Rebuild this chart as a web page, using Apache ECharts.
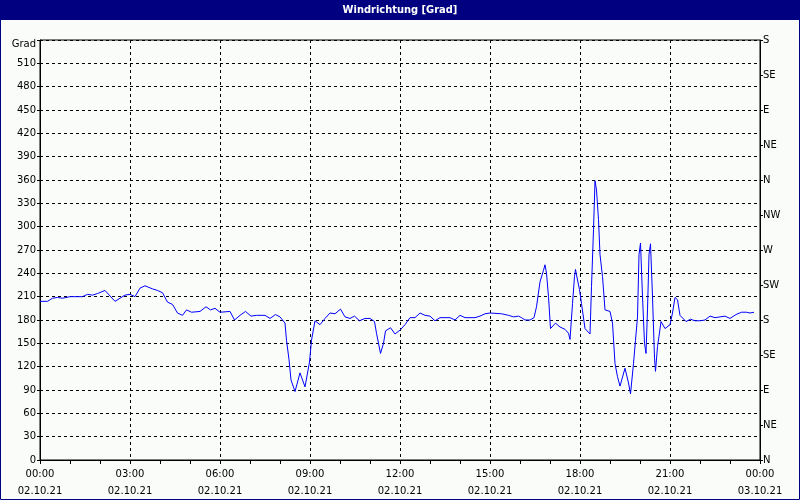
<!DOCTYPE html>
<html>
<head>
<meta charset="utf-8">
<script src="https://cdn.jsdelivr.net/npm/echarts@6/dist/echarts.min.js"></script>
<style>
    html, body { margin: 0; padding: 0; background: #fafcfa; }
    #chart { width: 800px; height: 500px; }
</style>
</head>
<body>
<div id="chart"></div>
<script>
    // Zeit in Minuten ab 02.10.21 00:00, Werte in Grad
    const minutes = [0, 15, 25, 35, 45, 60, 85, 95, 105, 115, 130, 150, 170, 180, 190, 200, 210, 225, 235, 245,
        255, 265, 275, 285, 293, 303, 320, 332, 341, 350, 360, 380, 389, 400, 411, 422, 433, 450, 460, 471,
        480, 490, 493, 498, 502, 510, 520, 530, 539, 543, 550, 560, 570, 580, 590, 601, 610, 620, 629, 639,
        650, 660, 669, 673, 681, 687, 691, 701, 710, 720, 730, 740, 750, 760, 770, 780, 790, 800, 820, 830,
        840, 850, 870, 880, 890, 900, 923, 937, 947, 957, 963, 970, 980, 988, 993, 1000, 1007, 1010, 1013, 1017,
        1021, 1031, 1040, 1050, 1057, 1060, 1065, 1069, 1071, 1073, 1079, 1083, 1090, 1100, 1103, 1107, 1110, 1113, 1117, 1120,
        1125, 1130, 1140, 1145, 1150, 1155, 1160, 1170, 1177, 1181, 1187, 1191, 1195, 1198, 1201, 1205, 1209, 1212, 1215, 1218,
        1221, 1225, 1229, 1231, 1235, 1238, 1242, 1250, 1260, 1265, 1270, 1275, 1280, 1292, 1301, 1310, 1320, 1330, 1340, 1350,
        1370, 1380, 1392, 1403, 1413, 1420, 1428];
    const grad = [204, 204, 208, 209, 208, 210, 210, 213, 212, 214, 218, 204, 212, 213, 210, 221, 224, 220, 218, 215,
        203, 200, 189, 186, 193, 190, 191, 197, 193, 195, 190, 191, 180, 186, 191, 185, 186, 186, 182, 187,
        184, 176, 154, 129, 103, 88, 112, 94, 126, 154, 179, 174, 182, 189, 188, 194, 184, 182, 185, 179,
        182, 182, 178, 163, 137, 150, 166, 170, 162, 167, 174, 183, 183, 189, 186, 185, 179, 183, 183, 180,
        186, 183, 183, 185, 188, 189, 188, 186, 184, 185, 183, 180, 180, 183, 197, 229, 244, 251, 240, 210,
        169, 176, 171, 168, 163, 155, 201, 236, 245, 238, 219, 201, 169, 162, 223, 296, 359, 347, 309, 264,
        236, 193, 191, 176, 124, 107, 95, 118, 99, 85, 124, 154, 184, 264, 279, 210, 150, 137, 193, 264,
        278, 210, 131, 114, 146, 159, 178, 169, 174, 189, 209, 206, 186, 178, 181, 179, 179, 180, 185, 183,
        185, 182, 187, 190, 190, 189, 190];

    const timeLabels = ['00:00', '03:00', '06:00', '09:00', '12:00', '15:00', '18:00', '21:00', '00:00'];
    const dateLabels = ['02.10.21', '02.10.21', '02.10.21', '02.10.21', '02.10.21', '02.10.21', '02.10.21', '02.10.21', '03.10.21'];
    const compassLabels = ['N', 'NE', 'E', 'SE', 'S', 'SW', 'W', 'NW', 'N', 'NE', 'E', 'SE', 'S'];

    let seriesData = [];
    for (let i = 0; i < minutes.length; i++) {
        seriesData.push([minutes[i], grad[i]]);
    }

    const txt = { fontFamily: 'DejaVu Sans', fontSize: 10, color: '#000' };
    const dashed = { show: true, lineStyle: { color: '#000', type: [3, 3], width: 1 } };

    let myChart = echarts.init(document.getElementById('chart'));
    const option = {
        backgroundColor: '#fafcfa',
        animation: false,
        grid: {
            left: 40, right: 40, top: 40, bottom: 40,
            outerBoundsMode: 'none', containLabel: false,
            show: true, borderColor: '#000', borderWidth: 1
        },
        graphic: [
            { type: 'rect', shape: { x: 0, y: 0, width: 800, height: 20 }, style: { fill: '#000080' } },
            { type: 'rect', shape: { x: 0.5, y: 0.5, width: 799, height: 499 }, style: { fill: 'none', stroke: '#000080', lineWidth: 1 } },
            {
                type: 'text', x: 400, y: 10,
                style: {
                    text: 'Windrichtung [Grad]', fill: '#fff', font: 'bold 11px "DejaVu Sans Condensed"',
                    textAlign: 'center', textVerticalAlign: 'middle'
                }
            }
        ],
        xAxis: {
            type: 'value', min: 0, max: 1440, interval: 180,
            axisLine: { show: true, lineStyle: { color: '#000' } },
            axisTick: { show: true, length: 4, lineStyle: { color: '#000' } },
            minorTick: { show: true, splitNumber: 3, length: 4, lineStyle: { color: '#000' } },
            splitLine: dashed,
            axisLabel: Object.assign({}, txt, {
                margin: 6, lineHeight: 17,
                formatter: function (v) {
                    const i = Math.round(v / 180);
                    return timeLabels[i] + '\n' + dateLabels[i];
                }
            })
        },
        yAxis: [
            {
                type: 'value', min: 0, max: 540, interval: 30, position: 'left',
                axisLine: { show: true, lineStyle: { color: '#000' } },
                axisTick: { show: true, length: 3, lineStyle: { color: '#000' } },
                splitLine: dashed,
                axisLabel: Object.assign({}, txt, {
                    margin: 4,
                    formatter: function (v) { return v === 540 ? '{g|Grad}' : String(v); },
                    rich: { g: { fontFamily: 'DejaVu Sans', fontSize: 10, color: '#000', padding: [9, 0, 0, 0] } }
                })
            },
            {
                type: 'value', min: 0, max: 540, interval: 45, position: 'right',
                axisLine: { show: true, lineStyle: { color: '#000' } },
                axisTick: { show: true, length: 3, lineStyle: { color: '#000' } },
                splitLine: { show: false },
                axisLabel: Object.assign({}, txt, {
                    margin: 3,
                    formatter: function (v) { return compassLabels[Math.round(v / 45)]; }
                })
            }
        ],
        series: [
            {
                name: 'Windrichtung', type: 'line', yAxisIndex: 0,
                data: seriesData, showSymbol: false, symbol: 'none',
                lineStyle: { color: '#0000ff', width: 1 }
            }
        ]
    };
    myChart.setOption(option);
</script>
</body>
</html>
